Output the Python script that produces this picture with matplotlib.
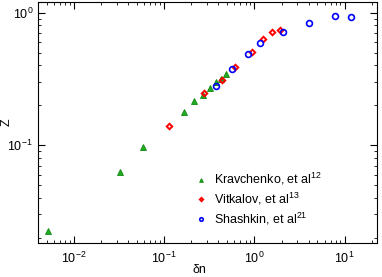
import matplotlib
matplotlib.use("Agg")
import matplotlib.pyplot as plt

plt.rcParams["font.family"] = ["Liberation Sans", "DejaVu Sans"]
plt.rcParams["mathtext.fontset"] = "custom"
plt.rcParams["mathtext.rm"] = "Liberation Sans"
plt.rcParams["mathtext.it"] = "Liberation Sans:italic"

# values
krav_dn = [0.0051, 0.0324, 0.0585, 0.164, 0.217, 0.271, 0.324, 0.378, 0.423, 0.485]
krav_z = [0.0227, 0.0624, 0.097, 0.178, 0.214, 0.240, 0.272, 0.298, 0.315, 0.342]

vitk_dn = [0.112, 0.276, 0.441, 0.604, 0.933, 1.26, 1.57, 1.91]
vitk_z = [0.139, 0.247, 0.308, 0.388, 0.509, 0.634, 0.72, 0.741]

shash_dn = [0.372, 0.565, 0.851, 1.16, 2.10, 4.01, 7.8, 11.7]
shash_z = [0.281, 0.377, 0.486, 0.588, 0.711, 0.831, 0.944, 0.922]

fig = plt.figure(figsize=(3.82, 2.77), dpi=100)
ax = fig.add_axes([0.0995, 0.123, 0.888, 0.871])

ax.plot(krav_dn, krav_z, ls="none", marker="^", ms=4.5, mfc="#22aa22",
        mec="#118811", mew=0.6, label="Kravchenko, et al$^{12}$")
ax.plot(vitk_dn, vitk_z, ls="none", marker="D", ms=2.8, mfc="none",
        mec="red", mew=1.4, label="Vitkalov, et al$^{13}$")
ax.plot(shash_dn, shash_z, ls="none", marker="o", ms=4.2, mfc="none",
        mec="blue", mew=1.2, label="Shashkin, et al$^{21}$")

ax.set_xscale("log")
ax.set_yscale("log")
ax.set_xlim(0.004, 23)
ax.set_ylim(0.0183, 1.21)

ax.tick_params(which="both", direction="in", top=True, right=True, labelsize=9)
ax.tick_params(which="major", length=5)
ax.tick_params(which="minor", length=2.5)
ax.tick_params(axis="x", pad=6)

ax.set_xlabel("δn", fontsize=9)
ax.set_ylabel("Z", fontsize=9)
ax.xaxis.set_label_coords(0.476, -0.087)
ax.yaxis.set_label_coords(-0.075, 0.5)

ax.legend(loc="lower right", bbox_to_anchor=(0.87, 0.02), frameon=False,
          fontsize=9, markerscale=0.6, handlelength=0.8, handletextpad=0.6,
          labelspacing=0.28)

fig.savefig("out.png", dpi=100)
